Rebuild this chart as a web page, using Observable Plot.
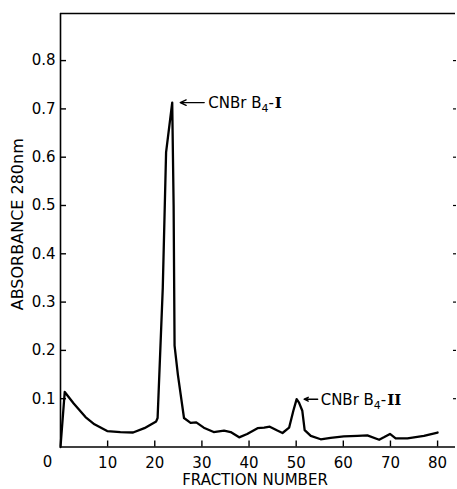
<!DOCTYPE html>
<html>
<head>
<meta charset="utf-8">
<script src="https://cdn.jsdelivr.net/npm/d3@7"></script>
<script src="https://cdn.jsdelivr.net/npm/@observablehq/plot@0.6"></script>
<style>
  html, body { margin: 0; padding: 0; background: #fff; }
  svg { display: block; }
</style>
</head>
<body>
<div id="chart"></div>
<script>
// ---- data ----
const fraction = [0, 0.9, 2.8, 5.3, 7.2, 9.9, 12.7, 15.4, 17.8, 20.3, 20.6, 21.7, 22.4, 23.7, 24.0, 24.2, 24.9, 26.2, 27.6, 28.8, 30.4, 32.5, 34.7, 36.1, 37.9, 39.6, 41.8, 43.2, 44.4, 46.0, 47.1, 48.5, 49.4, 50.1, 50.6, 51.3, 51.8, 53.1, 55.2, 57.3, 60.1, 63.0, 65.1, 67.6, 68.6, 69.9, 71.1, 73.6, 77.1, 80.0];
const absorbance = [0, 0.114, 0.090, 0.062, 0.047, 0.033, 0.031, 0.030, 0.039, 0.053, 0.060, 0.330, 0.610, 0.713, 0.500, 0.210, 0.150, 0.060, 0.050, 0.051, 0.040, 0.031, 0.034, 0.031, 0.020, 0.027, 0.039, 0.040, 0.042, 0.034, 0.029, 0.040, 0.075, 0.099, 0.092, 0.075, 0.035, 0.023, 0.016, 0.019, 0.022, 0.023, 0.024, 0.015, 0.020, 0.027, 0.018, 0.018, 0.023, 0.030];
const xTicks = [10, 20, 30, 40, 50, 60, 70, 80];
const yTicks = [0.1, 0.2, 0.3, 0.4, 0.5, 0.6, 0.7, 0.8];
const peakFraction = [23.7, 50.1];
const peakAbsorbance = [0.713, 0.099];
const peakNames = ["CNBr B", "CNBr B"];
const peakSub = ["4", "4"];
const peakRoman = ["I", "II"];
const xTitle = "FRACTION NUMBER";
const yTitle = "ABSORBANCE 280nm";

const series = fraction.map((f, i) => ({f, a: absorbance[i]}));
const peaks = peakFraction.map((f, i) => ({f, a: peakAbsorbance[i],
  label: peakNames[i] + peakSub[i] + "-" + peakRoman[i]}));

// ---- layout ----
const W = 457, H = 489;
const mL = 60, mR = 2, mT = 13, mB = 42.5;
const xDomain = [0, 83.8];
const yDomain = [0, 0.8975];
const unitPerPx = (xDomain[1] - xDomain[0]) / (W - mL - mR);
const arrowTip = [8, 7.5];   // px right of the peak
const arrowTail = [32, 21];  // px right of the peak
const textGap = [36, 24];

const font = "DejaVu Sans, sans-serif";

const chart = Plot.plot({
  width: W, height: H,
  marginLeft: mL, marginRight: mR, marginTop: mT, marginBottom: mB,
  style: {fontFamily: font, fontSize: "15px", color: "#000", background: "#fff"},
  x: {domain: xDomain},
  y: {domain: yDomain},
  marks: [
    // frame: left, bottom, top
    Plot.ruleX([0], {stroke: "#000", strokeWidth: 1.6}),
    Plot.ruleY([0], {stroke: "#000", strokeWidth: 1.6}),
    Plot.ruleY([yDomain[1]], {stroke: "#000", strokeWidth: 1.4}),
    // left y axis: inward ticks, labels
    Plot.axisY(yTicks, {anchor: "left", tickSize: 6, dx: 6, tickPadding: 5, tickFormat: ".1f",
      strokeWidth: 1.4, fontSize: 15, label: null}),
    // right-side short ticks
    Plot.axisY(yTicks, {anchor: "right", tickSize: 3, dx: -3, tickFormat: () => "", label: null, strokeWidth: 1.2}),
    // x axis: inward ticks
    Plot.axisX(xTicks, {anchor: "bottom", tickSize: 6, dy: -6, tickPadding: 10, fontSize: 15,
      strokeWidth: 1.4, label: null}),
    Plot.text([0], {x: d => d, y: 0, text: d => String(d), dx: -13, dy: 15.5, fontSize: 15}),
    // axis titles
    Plot.text([yTitle], {frameAnchor: "left", text: d => d, rotate: -90, textAnchor: "middle",
      lineAnchor: "middle", dx: -43, dy: -6, fontSize: 16}),
    Plot.text([xTitle], {frameAnchor: "bottom", text: d => d, textAnchor: "middle",
      lineAnchor: "middle", dy: 33.5, dx: -3, fontSize: 15}),
    // the elution profile
    Plot.line(series, {x: "f", y: "a", stroke: "#000", strokeWidth: 2.3, strokeLinejoin: "round"}),
    // annotations
    Plot.arrow(peaks, {
      x1: (d, i) => d.f + arrowTail[i] * unitPerPx,
      x2: (d, i) => d.f + arrowTip[i] * unitPerPx,
      y1: "a", y2: "a",
      stroke: "#000", strokeWidth: 1.4, headLength: 7, headAngle: 50
    }),
    Plot.text(peaks, {x: (d, i) => d.f + textGap[i] * unitPerPx, y: "a", text: "label",
      textAnchor: "start", fontSize: 15, dy: 1, className: "peak-label"})
  ]
});

// style the subscript and the Roman numeral inside the peak labels
d3.select(chart).selectAll(".peak-label text").each(function(_, i) {
  const t = d3.select(this);
  t.text(null);
  t.append("tspan").text(peakNames[i]);
  t.append("tspan").attr("font-size", 11).attr("dy", 4).text(peakSub[i]);
  t.append("tspan").attr("dy", -4).text("-");
  t.append("tspan").attr("font-family", "DejaVu Serif, serif").attr("font-weight", "bold")
    .attr("dx", 1).text(peakRoman[i]);
});

document.getElementById("chart").append(chart);
</script>
</body>
</html>
